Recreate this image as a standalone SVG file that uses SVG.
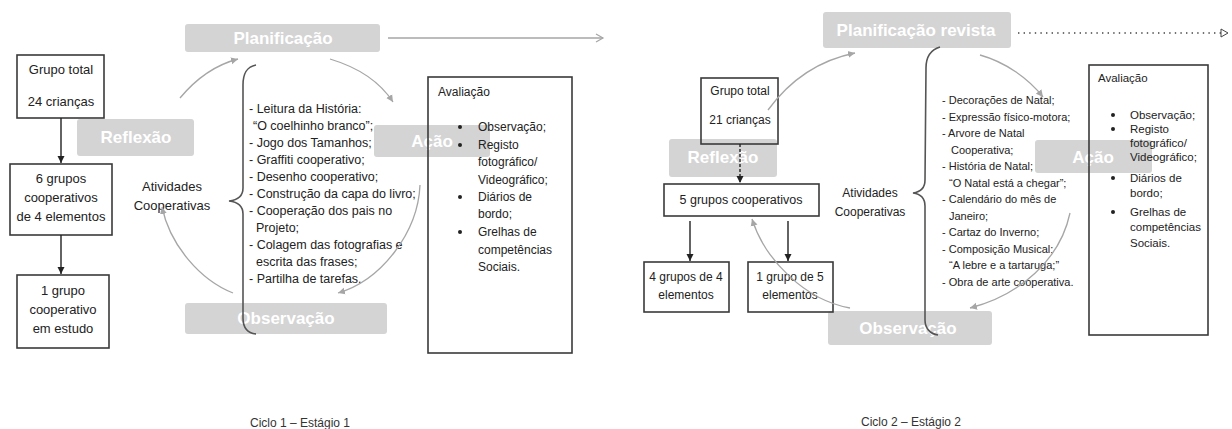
<svg xmlns="http://www.w3.org/2000/svg" width="1232" height="429" viewBox="0 0 1232 429">
<style>
.bg{fill:#ffffff}
.lbl{fill:#d4d4d4}
.lt{font-family:"Liberation Sans",Arial,sans-serif;font-weight:bold;font-size:17px;fill:#ffffff;text-anchor:middle}
.box{fill:none;stroke:#3a3a3a;stroke-width:1.6}
.t{font-family:"Liberation Sans",Arial,sans-serif;fill:#222222}
.c13{font-size:13px;text-anchor:middle}
.l1{font-size:12.5px}
.l2{font-size:11px}
.av{font-size:12px}
.cap{font-family:"Liberation Sans",Arial,sans-serif;font-size:12px;fill:#333333;text-anchor:middle}
.curve{fill:none;stroke:#a6a6a6;stroke-width:1.3}
.brace{fill:none;stroke:#555555;stroke-width:1.6}
.down{stroke:#222222;stroke-width:1.4}
</style>
<defs>
<marker id="ga" markerWidth="8" markerHeight="8" refX="7" refY="4" orient="auto" markerUnits="userSpaceOnUse">
<path d="M0,0.5 L7,4 L0,7.5 Z" fill="#a6a6a6"/>
</marker>
<marker id="chev" markerWidth="10" markerHeight="10" refX="8" refY="5" orient="auto" markerUnits="userSpaceOnUse">
<path d="M1,1 L8,5 L1,9" fill="none" stroke="#a6a6a6" stroke-width="1.2"/>
</marker>
<marker id="tri" markerWidth="10" markerHeight="10" refX="1" refY="5" orient="auto" markerUnits="userSpaceOnUse">
<path d="M1,1 L8,5 L1,9 Z" fill="#ffffff" stroke="#444444" stroke-width="1"/>
</marker>
<marker id="ba" markerWidth="8" markerHeight="8" refX="7" refY="4" orient="auto" markerUnits="userSpaceOnUse">
<path d="M0,0.5 L7,4 L0,7.5 Z" fill="#222222"/>
</marker>
</defs>
<rect class="bg" x="0" y="0" width="1232" height="429"/>

<!-- ===== Cycle 1 ===== -->
<g id="planificacao1"><rect class="lbl" x="185" y="24" width="195" height="28" rx="3"/><text class="lt" x="283" y="44">Planificação</text></g>
<g id="reflexao1"><rect class="lbl" x="77" y="119" width="117" height="37" rx="3"/><text class="lt" x="136" y="143">Reflexão</text></g>
<g id="acao1"><rect class="lbl" x="374" y="125" width="116" height="32" rx="3"/><text class="lt" x="432" y="147">Ação</text></g>
<g id="observacao1"><rect class="lbl" x="185" y="303" width="202" height="31" rx="3"/><text class="lt" x="286" y="324">Observação</text></g>

<g id="grupo-total1"><rect class="box" x="17" y="55" width="87" height="63"/>
<text class="t c13" x="61" y="74">Grupo total</text><text class="t c13" x="61" y="106">24 crianças</text></g>
<g id="seis-grupos"><rect class="box" x="10" y="164" width="102" height="71"/>
<text class="t c13" x="61" y="183">6 grupos</text><text class="t c13" x="61" y="202">cooperativos</text><text class="t c13" x="61" y="221">de 4 elementos</text></g>
<g id="um-grupo1"><rect class="box" x="17" y="275" width="92" height="73"/>
<text class="t c13" x="63" y="295">1 grupo</text><text class="t c13" x="63" y="314">cooperativo</text><text class="t c13" x="63" y="333">em estudo</text></g>

<g id="atividades1"><text class="t c13" x="172" y="191">Atividades</text><text class="t c13" x="172" y="210">Cooperativas</text></g>

<g id="lista1" class="t l1">
<text x="249" y="113">- Leitura da História:</text>
<text x="253" y="130">“O coelhinho branco”;</text>
<text x="249" y="147">- Jogo dos Tamanhos;</text>
<text x="249" y="164">- Graffiti cooperativo;</text>
<text x="249" y="181">- Desenho cooperativo;</text>
<text x="249" y="198">- Construção da capa do livro;</text>
<text x="249" y="215">- Cooperação dos pais no</text>
<text x="256" y="232">Projeto;</text>
<text x="249" y="249">- Colagem das fotografias e</text>
<text x="256" y="266">escrita das frases;</text>
<text x="249" y="283">- Partilha de tarefas.</text>
</g>

<g id="avaliacao1"><rect class="box" x="428" y="77" width="144" height="276"/>
<g class="t av">
<text x="438" y="96">Avaliação</text>
<text x="478" y="131">Observação;</text>
<text x="478" y="149">Registo</text>
<text x="478" y="166">fotográfico/</text>
<text x="478" y="184">Videográfico;</text>
<text x="478" y="201">Diários de</text>
<text x="478" y="218">bordo;</text>
<text x="478" y="236">Grelhas de</text>
<text x="478" y="254">competências</text>
<text x="478" y="271">Sociais.</text>
</g>
<g fill="#222222"><circle cx="460" cy="127" r="2"/><circle cx="460" cy="145" r="2"/><circle cx="460" cy="197" r="2"/><circle cx="460" cy="232" r="2"/></g>
</g>

<!-- ===== Cycle 2 ===== -->
<g id="planificacao2"><rect class="lbl" x="823" y="12" width="188" height="36" rx="3"/><text class="lt" x="916" y="36">Planificação revista</text></g>
<g id="reflexao2"><rect class="lbl" x="669" y="139" width="108" height="38" rx="3"/><text class="lt" x="723" y="163">Reflexão</text></g>
<g id="acao2"><rect class="lbl" x="1035" y="140" width="117" height="33" rx="3"/><text class="lt" x="1093" y="163">Ação</text></g>
<g id="observacao2"><rect class="lbl" x="828" y="311" width="164" height="34" rx="3"/><text class="lt" x="908" y="334">Observação</text></g>

<g id="grupo-total2"><rect class="box" x="701" y="78" width="77" height="66"/>
<text class="t" font-size="12" text-anchor="middle" x="740" y="95">Grupo total</text><text class="t" font-size="12" text-anchor="middle" x="740" y="124">21 crianças</text></g>
<g id="cinco-grupos"><rect class="box" x="664" y="184" width="155" height="32"/>
<text class="t" font-size="12.5" text-anchor="middle" x="741" y="204">5 grupos cooperativos</text></g>
<g id="quatro-grupos"><rect class="box" x="644" y="262" width="85" height="50"/>
<text class="t" font-size="12" text-anchor="middle" x="686" y="281">4 grupos de 4</text><text class="t" font-size="12" text-anchor="middle" x="686" y="299">elementos</text></g>
<g id="um-grupo2"><rect class="box" x="748" y="262" width="85" height="50"/>
<text class="t" font-size="12" text-anchor="middle" x="790" y="281">1 grupo de 5</text><text class="t" font-size="12" text-anchor="middle" x="790" y="299">elementos</text></g>

<g id="atividades2"><text class="t" font-size="12" text-anchor="middle" x="870" y="197">Atividades</text><text class="t" font-size="12" text-anchor="middle" x="870" y="216">Cooperativas</text></g>

<g id="lista2" class="t l2">
<text x="942" y="104">- Decorações de Natal;</text>
<text x="942" y="120.5">- Expressão físico-motora;</text>
<text x="942" y="137">- Arvore de Natal</text>
<text x="951" y="153.5">Cooperativa;</text>
<text x="942" y="170">- História de Natal;</text>
<text x="949" y="186.5">“O Natal está a chegar”;</text>
<text x="942" y="203">- Calendário do mês de</text>
<text x="949" y="219.5">Janeiro;</text>
<text x="942" y="236">- Cartaz do Inverno;</text>
<text x="942" y="252.5">- Composição Musical:</text>
<text x="949" y="269">“A lebre e a tartaruga;”</text>
<text x="942" y="285.5">- Obra de arte cooperativa.</text>
</g>

<g id="avaliacao2"><rect class="box" x="1089" y="65" width="119" height="270"/>
<g class="t" font-size="11.5">
<text x="1098" y="82">Avaliação</text>
<text x="1130" y="119">Observação;</text>
<text x="1130" y="133">Registo</text>
<text x="1130" y="147">fotográfico/</text>
<text x="1130" y="161">Videográfico;</text>
<text x="1130" y="182">Diários de</text>
<text x="1130" y="197">bordo;</text>
<text x="1130" y="216">Grelhas de</text>
<text x="1130" y="231">competências</text>
<text x="1130" y="247">Sociais.</text>
</g>
<g fill="#222222"><circle cx="1113" cy="115" r="2"/><circle cx="1113" cy="129" r="2"/><circle cx="1113" cy="178" r="2"/><circle cx="1113" cy="212" r="2"/></g>
</g>

<!-- ===== Connectors ===== -->
<g id="connectors">
<path class="curve" d="M388,38 L603,38" marker-end="url(#chev)"/>
<path class="curve" d="M180,98 C195,80 215,65 238,59" marker-end="url(#ga)"/>
<path class="curve" d="M330,59 C360,68 380,82 393,102" marker-end="url(#ga)"/>
<path class="curve" d="M420,185 C418,232 382,280 338,293" marker-end="url(#ga)"/>
<path class="curve" d="M233,293 C200,280 170,245 162,207" marker-end="url(#ga)"/>
<line class="down" x1="61" y1="118" x2="61" y2="163" marker-end="url(#ba)"/>
<line class="down" x1="61" y1="235" x2="61" y2="274" marker-end="url(#ba)"/>
<path class="brace" d="M256,65 C246,67 243,74 243,85 L243,188 C243,196 238,200 229,201 C238,202 243,206 243,214 L243,318 C243,328 247,333 256,334"/>

<path d="M1018,33 L1221,33" fill="none" stroke="#444444" stroke-width="1.4" stroke-dasharray="1.4 4.2" marker-end="url(#tri)"/>
<path class="curve" d="M768,110 C790,80 820,60 855,53" marker-end="url(#ga)"/>
<path class="curve" d="M980,55 C1005,62 1028,78 1043,97" marker-end="url(#ga)"/>
<path class="curve" d="M1070,213 C1060,260 1020,295 970,308" marker-end="url(#ga)"/>
<path class="curve" d="M850,308 C805,300 765,260 752,219" marker-end="url(#ga)"/>
<line class="down" x1="740" y1="144" x2="740" y2="183" stroke-dasharray="3 2" marker-end="url(#ba)"/>
<line class="down" x1="690" y1="221" x2="690" y2="261" marker-end="url(#ba)"/>
<line class="down" x1="788" y1="221" x2="788" y2="261" marker-end="url(#ba)"/>
<path class="brace" d="M940,47 C930,50 926,57 926,68 L925,180 C925,188 920,192 913,193 C920,194 925,198 925,206 L925,320 C925,328 930,334 938,335"/>
</g>

<text class="cap" x="300" y="427">Ciclo 1 – Estágio 1</text>
<text class="cap" x="911" y="426">Ciclo 2 – Estágio 2</text>
</svg>
